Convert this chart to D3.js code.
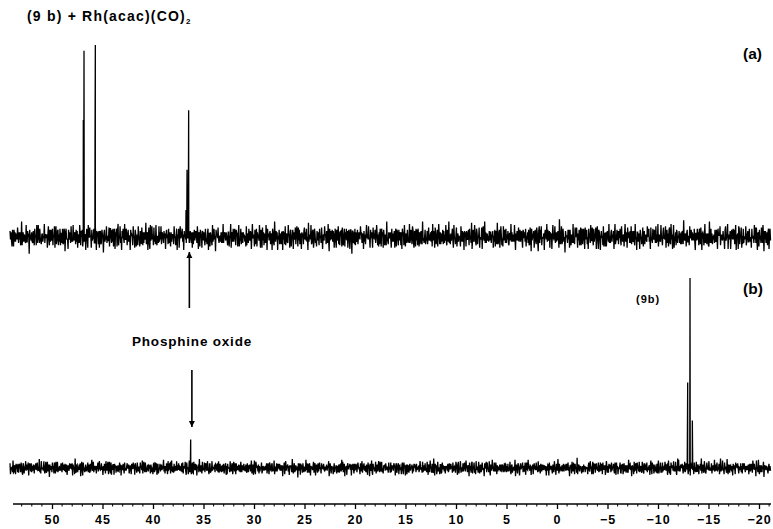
<!DOCTYPE html>
<html>
<head>
<meta charset="utf-8">
<script src="https://cdn.jsdelivr.net/npm/d3@7"></script>
<style>
  body { margin: 0; background: #fff; }
  svg { display: block; }
  text { font-family: "Liberation Sans", Arial, sans-serif; font-weight: bold; fill: #000; }
</style>
</head>
<body>
<svg id="chart" width="773" height="529"></svg>
<script>
// peaks: [ppm, relative intensity]
var peaksA = [[46.9, 61], [46.83, 97], [45.74, 50], [45.71, 100], [36.73, 14], [36.63, 35], [36.47, 66]];
var peaksB = [[36.27, 15], [-11.95, 5], [-12.94, 45], [-13.17, 100], [-13.4, 25]];

// axis labels (ppm)
var majorTicks = [50, 45, 40, 35, 30, 25, 20, 15, 10, 5, 0, -5, -10, -15, -20];

// baseline noise texture (hand typed, tiled along the trace)
var noiseA = [3,-5,7,-2,-8,4,1,-6,9,-3,2,-7,5,0,-4,8,-1,-9,6,-2,3,-5,-1,7,-6,2,4,-8,1,5,-3,-7,9,-2,0,6,-4,3,-9,5,-1,2,-6,8,-3,-5,4,1,-7,6,-2,3,-4,9,-8,0,5,-1,-6,7,2,-3,-9,4,6,-5,1,-2,8,-7,3,0,-4,5,-8,2,7,-1,-5,9,-3,4,-6,1,6,-9,2,-2,5,-7,3,8,-4,0,-1,7,-5,2,-8,6,-3,4,1,-6,9,-2,-4,3,5,-7,0,8,-1,-5,2,-9,6,-3,1,4,-6,7,-2];
var noiseB = [2,-1,0,3,-2,1,-3,0,2,-1,4,-2,0,1,-3,2,-4,1,0,-1,3,-2,2,0,-3,1,5,-1,-2,0,2,-4,1,3,-1,0,-2,4,-3,1,0,-1,2,-5,3,0,1,-2,2,-1,-3,4,0,1,-2,3,-1,0,-4,2,1,-1,3,-2,0,2,-3,1,-1,6,-2];

var svg = d3.select("#chart");

var x = d3.scaleLinear().domain([50, -20]).range([52, 759]);
var xMin = x.invert(10), xMax = x.invert(771);

var yA = d3.scaleLinear().domain([0, 100]).range([237, 45]);
var yB = d3.scaleLinear().domain([0, 100]).range([468, 278]);

// sampling grid along the ppm axis
var grid = d3.range(xMin, xMax, -0.05);

function buildTrace(peaks, noiseAmp, offset){
    var pts = grid.map(function(p, i){
        var n = noiseA[(i + offset) % noiseA.length] + noiseB[(i * 3 + offset) % noiseB.length];
        return [p, n * noiseAmp];
    });
    peaks.forEach(function(pk){ pts.push(pk); });
    pts.sort(function(a, b){ return b[0] - a[0]; });
    return pts;
}

function drawTrace(pts, y){
    var line = d3.line()
        .x(function(d){ return x(d[0]); })
        .y(function(d){ return y(d[1]); });
    svg.append("path")
        .attr("d", line(pts))
        .attr("fill", "none")
        .attr("stroke", "#000")
        .attr("stroke-width", 1.3);
}

drawTrace(buildTrace(peaksA, 0.62, 0), yA);
drawTrace(buildTrace(peaksB, 0.36, 37), yB);

// axis
var axisY = 504;
var minor = d3.range(53, -22, -1).filter(function(v){ return v % 5 !== 0 && x(v) > 12 && x(v) < 771; });
svg.append("line")
    .attr("x1", 13).attr("x2", 771)
    .attr("y1", axisY).attr("y2", axisY)
    .attr("stroke", "#000").attr("stroke-width", 1.3);

var axis = d3.axisBottom(x)
    .tickValues(majorTicks)
    .tickSize(5)
    .tickSizeOuter(0)
    .tickFormat(function(d){ return d < 0 ? "\u2212" + Math.abs(d) : d; });

var gAxis = svg.append("g")
    .attr("transform", "translate(0," + axisY + ")")
    .call(axis);
gAxis.select(".domain").remove();
gAxis.selectAll(".tick line").attr("stroke-width", 1.3);
gAxis.selectAll(".tick text")
    .attr("y", 11)
    .style("font-size", "12.5px")
    .style("letter-spacing", "1px")
    .style("font-family", "'Liberation Sans', Arial, sans-serif")
    .style("font-weight", "bold");

svg.append("g").selectAll("line")
    .data(minor)
    .join("line")
    .attr("x1", function(d){ return x(d); })
    .attr("x2", function(d){ return x(d); })
    .attr("y1", axisY).attr("y2", axisY + 2.5)
    .attr("stroke", "#000");

// labels
var title = svg.append("text").attr("x", 27).attr("y", 21)
    .style("font-size", "14px").style("letter-spacing", "1.2px");
title.append("tspan").text("(9 b) + Rh(acac)(CO)");
title.append("tspan").text("2").attr("dy", 3).style("font-size", "8px");

svg.append("text").attr("x", 743).attr("y", 59).style("font-size", "15.5px").text("(a)");
svg.append("text").attr("x", 743).attr("y", 294).style("font-size", "15.5px").text("(b)");
svg.append("text").attr("x", 636).attr("y", 303).style("font-size", "11px").style("letter-spacing", "1px").text("(9b)");
svg.append("text").attr("x", 132).attr("y", 346).style("font-size", "13.5px").style("letter-spacing", "0.8px").text("Phosphine oxide");

// arrows pointing at the phosphine oxide signal
svg.append("defs").append("marker")
    .attr("id", "head")
    .attr("viewBox", "0 0 10 10")
    .attr("refX", 10).attr("refY", 5)
    .attr("markerWidth", 6).attr("markerHeight", 8)
    .attr("markerUnits", "userSpaceOnUse")
    .attr("orient", "auto")
    .append("path").attr("d", "M0,0 L10,5 L0,10 Z").attr("fill", "#000");

svg.append("line")
    .attr("x1", x(36.4)).attr("x2", x(36.4))
    .attr("y1", 308).attr("y2", 252)
    .attr("stroke", "#000").attr("stroke-width", 1.6)
    .attr("marker-end", "url(#head)");
svg.append("line")
    .attr("x1", x(36.15)).attr("x2", x(36.15))
    .attr("y1", 370).attr("y2", 427)
    .attr("stroke", "#000").attr("stroke-width", 1.6)
    .attr("marker-end", "url(#head)");
</script>
</body>
</html>
